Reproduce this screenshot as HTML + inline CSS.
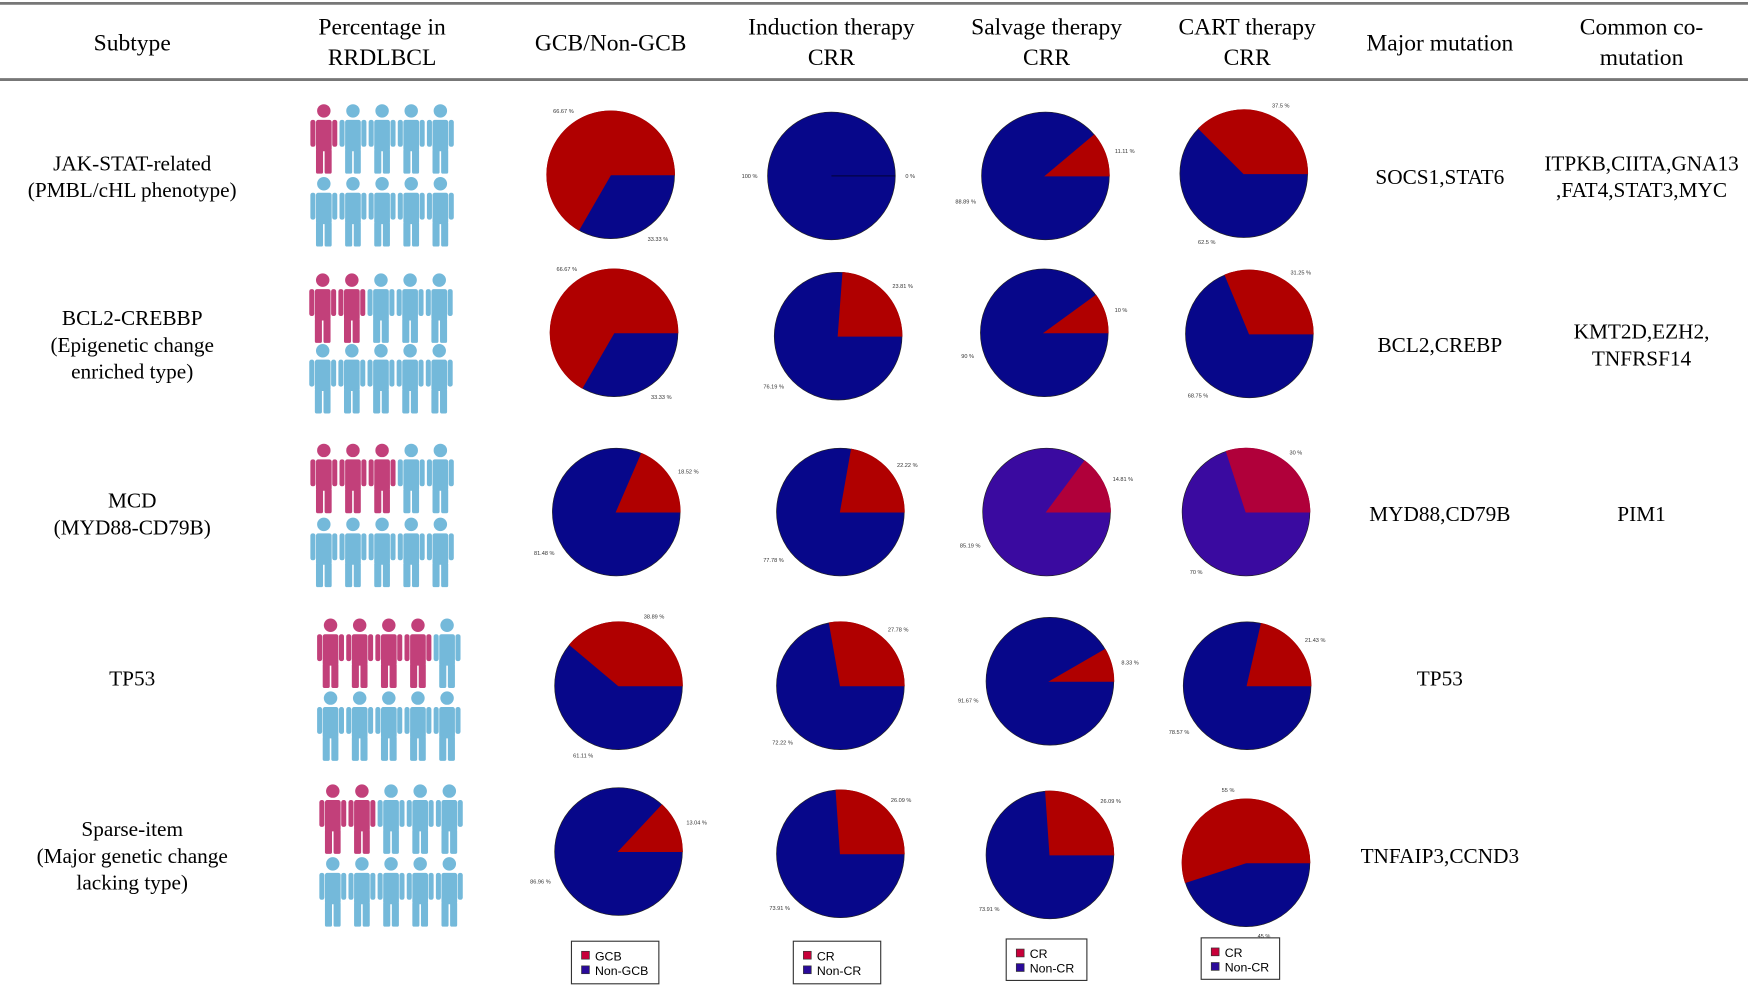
<!DOCTYPE html>
<html><head><meta charset="utf-8"><style>
html,body{margin:0;padding:0;background:#fff;}
svg{display:block;}
</style></head><body>
<svg id="fig" xmlns="http://www.w3.org/2000/svg" width="1748" height="989" viewBox="0 0 1748 989">
<g id="root" transform="scale(1.1205)" font-family="'Liberation Serif', serif" fill="#000">
<line x1="0" y1="3" x2="1560" y2="3" stroke="#777" stroke-width="2.5"/>
<line x1="0" y1="71" x2="1560" y2="71" stroke="#777" stroke-width="2.5"/>
<g font-size="21" text-anchor="middle">
<text x="118" y="45">Subtype</text>
<text x="341" y="31">Percentage in<tspan x="341" dy="27">RRDLBCL</tspan></text>
<text x="545" y="45">GCB/Non-GCB</text>
<text x="742" y="31">Induction therapy<tspan x="742" dy="27">CRR</tspan></text>
<text x="934" y="31">Salvage therapy<tspan x="934" dy="27">CRR</tspan></text>
<text x="1113" y="31">CART therapy<tspan x="1113" dy="27">CRR</tspan></text>
<text x="1285" y="45">Major mutation</text>
<text x="1465" y="31">Common co-<tspan x="1465" dy="27">mutation</tspan></text>
</g>
<g id="body" font-size="19" text-anchor="middle"></g>
</g>
</svg>
<script>
const subtypes = [["JAK-STAT-related","(PMBL/cHL phenotype)"],["BCL2-CREBBP","(Epigenetic change","enriched type)"],["MCD","(MYD88-CD79B)"],["TP53"],["Sparse-item","(Major genetic change","lacking type)"]];
const pinkCounts = [1,2,3,4,2];
const gcbValues = [66.67,66.67,18.52,38.89,13.04];
const inductionValues = [0,23.81,22.22,27.78,26.09];
const salvageValues = [11.11,10,14.81,8.33,26.09];
const cartValues = [37.5,31.25,30,21.43,55];
const majorMutations = [["SOCS1,STAT6"],["BCL2,CREBP"],["MYD88,CD79B"],["TP53"],["TNFAIP3,CCND3"]];
const coMutations = [["ITPKB,CIITA,GNA13",",FAT4,STAT3,MYC"],["KMT2D,EZH2,","TNFRSF14"],["PIM1"],[],[]];
const legendLabels = [["GCB","Non-GCB"],["CR","Non-CR"],["CR","Non-CR"],["CR","Non-CR"]];

const NS="http://www.w3.org/2000/svg";
const body=document.getElementById('body');
function mk(tag,attrs,parent){const e=document.createElementNS(NS,tag);for(const k in attrs)e.setAttribute(k,attrs[k]);(parent||body).appendChild(e);return e;}
const rowY=[157,307,458,605,763];
const figX=[277,276,277,283,285];
const figTop=[[93,158],[244,307],[396,462],[552,617],[700,765]];
const pieCenters=[[[545,156],[742,157],[933,157],[1110,155]],[[548,297],[748,300],[932,297],[1115,298]],[[550,457],[750,457],[934,457],[1112,457]],[[552,612],[750,612],[937,608],[1113,612]],[[552,760],[750,762],[937,763],[1112,770]]];
const R=57;
function lines(texts,x,cy,lh,name){
  const n=texts.length; texts.forEach((t,i)=>{const e=mk('text',{x:x,y:cy+(i-(n-1)/2)*lh+7});
  
  
  e.textContent=t;});
}
function person(x,top,color){
  const g=mk('g',{fill:color});
  
  
  mk('circle',{cx:x,cy:top+6,r:6},g);
  mk('rect',{x:x-7,y:top+14,width:14,height:28,rx:2},g);
  mk('rect',{x:x-12,y:top+14,width:4.5,height:24,rx:2},g);
  mk('rect',{x:x+7.5,y:top+14,width:4.5,height:24,rx:2},g);
  mk('rect',{x:x-7,y:top+40,width:6.3,height:22,rx:1.5},g);
  mk('rect',{x:x+0.7,y:top+40,width:6.3,height:22,rx:1.5},g);
}
function pt(cx,cy,r,deg){const a=deg*Math.PI/180;return [cx+r*Math.cos(a),cy-r*Math.sin(a)];}
function pie(cx,cy,val,colA,colB,name){
  const g=mk('g',{});
  
  
  const ang=val/100*360;
  const b=mk('circle',{cx:cx,cy:cy,r:R,fill:colB,stroke:'#222','stroke-width':0.6},g);
  
  
  if(val>0){
    const p=pt(cx,cy,R,ang);
    const large=ang>180?1:0;
    const s=mk('path',{d:`M${cx},${cy} L${cx+R},${cy} A${R},${R} 0 ${large} 0 ${p[0]},${p[1]} Z`,fill:colA,stroke:colA,'stroke-width':0.8},g);
    
    
  } else {
    mk('line',{x1:cx,y1:cy,x2:cx+R,y2:cy,stroke:'#000','stroke-width':0.6},g);
  }
  const fmt=v=>(Math.round(v*100)/100)+' %';
  const labs=[[val,val>0?ang/2:0],[100-val,ang+(360-ang)/2]];
  labs.forEach(([v,m])=>{const p=pt(cx,cy,R+9,m);const t=mk('text',{x:p[0],y:p[1]+2,'font-size':5,'font-family':"'Liberation Sans', sans-serif",'text-anchor':Math.cos(m*Math.PI/180)<-0.1?'end':(Math.cos(m*Math.PI/180)>0.1?'start':'middle'),fill:'#333'},g);
    
    
    t.textContent=fmt(v);});
}
const series=[gcbValues,inductionValues,salvageValues,cartValues];
const seriesNames=['gcb-pie','induction-pie','salvage-pie','cart-pie'];
for(let r=0;r<5;r++){
  lines(subtypes[r],118,rowY[r],24,'subtype-label');
  for(let k=0;k<10;k++){
    const row=Math.floor(k/5),col=k%5;
    person(figX[r]+12+col*26,figTop[r][row],k<pinkCounts[r]?'#c2407a':'#74b9da');
  }
  series.forEach((s,j)=>{
    const purple=(r===2&&j>=2);
    pie(pieCenters[r][j][0],pieCenters[r][j][1],s[r],purple?'#b0003a':'#b00000',purple?'#3a0aa0':'#07078a',seriesNames[j]);
  });
  lines(majorMutations[r],1285,rowY[r],24,'major-mutation');
  if(coMutations[r].length) lines(coMutations[r],1465,rowY[r],24,'co-mutation');
}
const legendBoxes=[[510,840,78,38],[708,840,78,38],[898,838,72,37],[1072,837,70,37]];
legendBoxes.forEach((bx,i)=>{
  const g=mk('g',{'font-family':"'Liberation Sans', sans-serif",'font-size':11,'text-anchor':'start'});
  
  
  mk('rect',{x:bx[0],y:bx[1],width:bx[2],height:bx[3],fill:'#fff',stroke:'#333','stroke-width':1},g);
  const cols=['#c8003a','#2a0a9a'];
  legendLabels[i].forEach((lab,k)=>{
    const y=bx[1]+9+k*13;
    mk('rect',{x:bx[0]+9,y:y,width:7,height:7,fill:cols[k],stroke:'#333','stroke-width':0.6},g);
    const t=mk('text',{x:bx[0]+21,y:y+8},g);
    
    
    t.textContent=lab;
  });
});
</script>
</body></html>
